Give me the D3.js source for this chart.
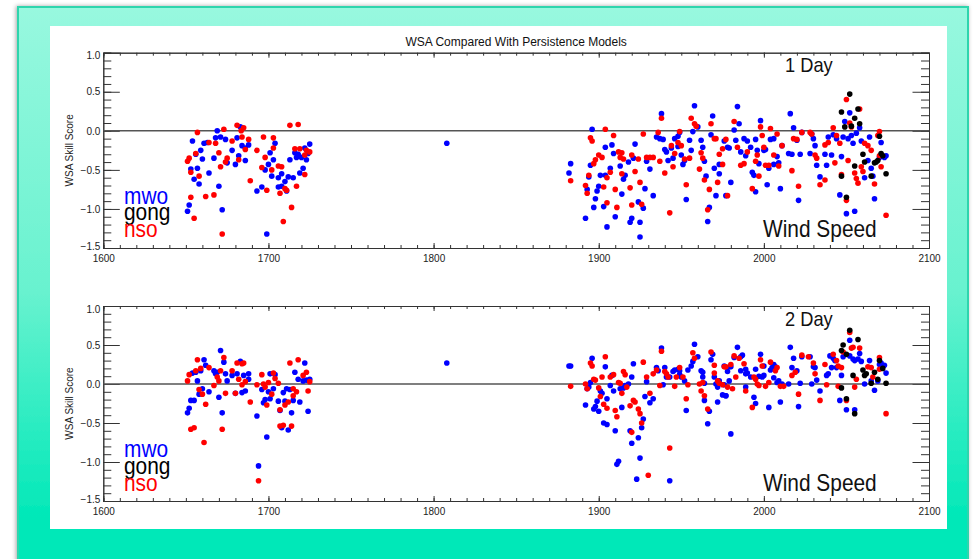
<!DOCTYPE html>
<html>
<head>
<meta charset="utf-8">
<script src="https://cdn.jsdelivr.net/npm/d3@7"></script>
<style>
  html, body { margin: 0; padding: 0; background: #ffffff; }
  svg { display: block; }
</style>
</head>
<body>
<svg id="chart" width="973" height="559"></svg>
<script>
// ---- axis ticks and labels ----
const xMajorTicks = [1600, 1700, 1800, 1900, 2000, 2100];
const yMajorTicks = [-1.5, -1.0, -0.5, 0.0, 0.5, 1.0];
const legendNames = ["mwo", "gong", "nso"];
const panelLabels = ["1 Day", "2 Day"];
const chartTitle = "WSA Compared With Persistence Models";
const yTitle = "WSA Skill Score";
const variableLabel = "Wind Speed";

// ---- 1 day forecast skill: [Carrington rotation, skill score] ----
const day1Mwo = [
  [1683,0.05],[1669,0.0],[1668,-0.09],[1671,-0.08],[1674,-0.11],[1654,-0.13],[1661,-0.16],[1663,-0.15],
  [1659,-0.25],[1656,-0.30],[1660,-0.36],[1653,-0.49],[1657,-0.48],[1655,-0.62],[1658,-0.68],[1652,-0.95],
  [1651,-1.03],[1664,-0.54],[1670,-0.71],[1672,-1.01],[1667,-0.35],[1675,-0.41],[1678,-0.25],[1680,-0.43],
  [1682,-0.32],[1686,-0.38],[1681,-0.09],[1684,-0.19],[1686,-0.22],[1688,-0.18],[1693,-0.77],[1696,-0.72],
  [1699,-1.32],[1701,-0.28],[1704,-0.16],[1703,-0.37],[1700,-0.43],[1698,-0.50],[1702,-0.58],[1706,-0.60],
  [1708,-0.55],[1710,-0.65],[1706,-0.72],[1708,-0.71],[1711,-0.77],[1712,-0.59],[1715,-0.60],[1713,-0.37],
  [1716,-0.28],[1717,-0.34],[1720,-0.34],[1718,-0.30],[1721,-0.48],[1719,-0.54],[1723,-0.37],[1722,-0.22],
  [1724,-0.29],[1725,-0.17],
  [1808,-0.16],
  [1883,-0.42],[1882,-0.54],[1896,0.02],[1895,-0.44],[1894,-0.59],[1893,-0.75],[1892,-1.12],[1897,-0.98],
  [1898,-0.87],[1899,-0.77],[1900,-0.71],[1901,-0.57],[1903,-0.97],[1904,-0.57],[1905,-1.23],[1907,-0.48],
  [1904,-0.21],[1908,-0.18],[1909,-0.29],[1910,-1.10],[1913,-0.45],[1914,-0.81],[1915,-0.62],[1916,-0.57],
  [1918,-0.40],[1919,-1.17],[1920,-1.12],[1921,-0.35],[1922,-0.17],[1924,-0.91],[1925,-1.17],[1925,-1.36],
  [1927,-0.99],[1928,-0.74],[1929,-0.39],[1931,-0.49],[1933,-0.83],[1935,-0.08],[1938,0.22],[1937,-0.10],
  [1939,-0.11],[1940,-0.24],[1941,-0.27],[1942,-0.38],[1944,-0.22],[1945,-0.35],[1946,-0.10],[1948,-0.07],
  [1949,-0.02],[1948,-0.20],[1950,-0.31],[1952,-0.38],[1951,-0.43],[1953,-0.88],[1955,-0.12],[1956,-0.25],
  [1957,-0.01],[1958,0.32],[1960,0.05],[1962,-0.12],[1963,-0.21],[1964,-0.39],[1965,-0.58],[1967,-0.98],
  [1966,-1.16],[1968,-0.05],[1969,0.19],[1970,-0.48],[1971,-0.83],[1973,-0.55],[1973,-0.43],[1976,-0.13],
  [1978,-0.21],
  [1984,0.31],[1985,0.09],[1982,0.01],[1979,-0.22],[1983,-0.12],[1986,-0.27],[1980,-0.66],[1977,-0.83],
  [1988,-0.10],[1990,-0.13],[1992,-0.21],[1989,-0.32],[1993,-0.53],[1994,-0.57],[1995,-0.78],[1995,-0.11],
  [1996,-0.25],[1997,-0.42],[1998,0.13],[2000,-0.25],[2001,-0.24],[2002,-0.69],[2003,-0.48],[2004,-0.11],
  [2006,-0.43],[2006,-0.10],[2008,-0.33],[2009,-0.41],[2011,-0.19],[2010,-0.74],[2015,-0.29],[2016,0.22],
  [2017,-0.30],[2018,0.04],[2020,-0.12],[2021,-0.89],[2022,-0.30],[2023,-0.02],[2028,-0.29],[2029,-0.04],
  [2030,-0.10],[2031,-0.19],[2032,-0.44],[2034,-0.59],[2037,-0.30],[2038,-0.44],[2039,-0.08],[2041,-0.31],
  [2042,-0.05],[2044,-0.10],[2046,-0.82],[2047,-0.33],[2048,-0.08],[2049,0.12],[2050,-1.06],[2051,-0.10],
  [2052,0.23],[2053,-0.06],[2054,-0.16],[2055,-1.03],[2056,-0.03],[2058,0.04],[2059,-0.13],[2061,-0.60],
  [2063,-0.38],[2064,-0.08],[2065,-0.48],[2066,-0.58],[2067,-0.87],[2070,-0.34],[2071,-0.15],[2073,-0.34],
  [2074,-0.32]
];

const day1Nso = [
  [1681,0.07],[1685,0.04],[1683.5,0.0],[1657,-0.02],[1673,0.02],[1713,0.07],[1718,0.08],[1664,-0.15],
  [1668,-0.16],[1678,-0.13],[1684,-0.08],[1688,-0.11],[1697,-0.08],[1703,-0.09],[1693,-0.25],[1686,-0.24],
  [1670,-0.28],[1675,-0.35],[1674,-0.40],[1682,-0.37],[1671,-0.46],[1656,-0.29],[1652,-0.35],[1651,-0.39],
  [1658,-0.58],[1653,-0.53],[1662,-0.84],[1667,-0.82],[1653,-0.85],[1655,-1.12],[1672,-1.32],[1689,-0.64],
  [1698,-0.34],[1703,-0.22],[1696,-0.47],[1699,-0.76],[1702,-0.50],[1706,-0.45],[1708,-0.46],[1710,-0.74],
  [1707,-0.80],[1717,-0.71],[1714,-0.98],[1709,-1.16],[1711,-0.76],[1716,-0.23],[1719,-0.23],[1722,-0.31],
  [1723,-0.25],[1725,-0.27],[1722,-0.56],
  [1883,-0.64],[1895,-0.09],[1896,-0.13],[1894,-0.57],[1892,-0.70],[1893,-0.80],[1897,-0.42],[1898,-0.37],
  [1900,-0.31],[1902,-0.34],[1904,0.02],[1905,-0.60],[1903,-0.72],[1905,-0.92],[1909,-0.06],[1907,-0.53],
  [1910,-0.75],[1912,-0.27],[1913,-0.34],[1914,-0.28],[1915,-0.36],[1914,-0.55],[1911,-0.98],[1919,-0.73],
  [1920,-0.95],[1920,-0.31],[1922,-0.52],[1924,-0.36],[1925,-0.66],[1926,-0.94],[1927,-0.04],[1929,-0.34],
  [1931,-0.34],[1933,-0.34],[1936,-0.02],[1938,0.16],[1937,-0.39],[1940,-0.54],[1943,-1.05],[1944,-0.19],
  [1945,-0.46],[1946,-0.29],[1948,-0.15],[1949,-0.01],[1950,-0.19],[1952,-0.36],[1953,-0.69],[1955,-0.35],
  [1956,0.16],[1958,0.09],[1959,0.06],[1961,-0.49],[1962,-0.28],[1963,-0.35],[1964,-0.63],[1966,-1.01],
  [1967,-0.75],[1968,0.09],[1970,-0.10],[1971,-0.10],[1972,-0.66],[1973,-0.30],[1975,-0.43],[1975,-0.23],
  [1977,-0.11],[1978,-0.83],
  [1982,0.12],[1984,-0.21],[1986,-0.44],[1988,-0.42],[1990,-0.27],[1993,-0.74],[1995,-0.39],[1996,-0.31],
  [1997,-0.58],[1998,0.05],[1999,-0.06],[2000,-0.21],[2001,-0.44],[2003,-0.44],[2004,0.03],[2006,-0.31],
  [2008,-0.04],[2009,-0.45],[2011,-0.19],[2017,-0.51],[2018,-0.10],[2020,-0.11],[2021,-0.71],[2023,-0.02],
  [2028,-0.02],[2029,-0.04],[2031,-0.31],[2032,-0.35],[2034,-0.69],[2037,-0.63],[2037,-0.18],[2039,-0.15],
  [2042,0.04],[2043,-0.41],[2044,-0.06],[2046,-0.16],[2047,-0.56],[2050,0.40],[2050,-0.89],[2051,-0.38],
  [2052,0.10],[2053,0.05],[2055,-0.54],[2056,-0.61],[2057,-0.67],[2058,0.28],[2059,-0.46],[2060,-0.52],
  [2061,-0.16],[2063,-0.19],[2065,-0.25],[2067,-0.68],[2069,-0.06],[2070,-0.01],[2070,-0.32],[2071,-0.46],
  [2074,-1.08]
];

const day1Gong = [
  [2052,0.47],[2047,0.24],[2049,0.05],[2053,0.06],[2055,0.16],[2058,0.09],[2057,0.28],[2047,-0.58],
  [2050,-0.85],[2055,-0.45],[2060,-0.30],[2061,-0.40],[2065,-0.58],[2067,-0.41],[2068,-0.40],[2069,-0.38],
  [2071,-0.29],[2072,-0.32],[2074,-0.55],[2070,-0.07]
];

// ---- 2 day forecast skill ----
const day2Mwo = [
  [1671,0.43],[1673,0.28],[1661,0.31],[1662,0.24],[1659,0.17],[1656,0.15],[1654,0.14],[1657,0.04],
  [1667,0.17],[1668,0.13],[1669,0.15],[1675,0.04],[1674,0.13],[1678,0.11],[1681,0.13],[1683,0.29],
  [1685,0.11],[1688,0.13],[1688,0.06],[1686,-0.09],[1684,-0.11],[1680,-0.12],[1670,-0.17],[1664,-0.10],
  [1660,-0.06],[1658,-0.13],[1655,-0.21],[1653,-0.21],[1652,-0.31],[1651,-0.37],[1672,-0.37],[1693,-0.41],
  [1696,-0.07],[1701,0.13],[1704,0.12],[1700,-0.10],[1703,-0.06],[1698,-0.20],[1697,-0.24],[1701,-0.19],
  [1699,-0.68],[1694,-1.05],[1706,-0.22],[1709,-0.11],[1711,-0.06],[1713,-0.07],[1710,-0.22],[1707,-0.34],
  [1708,-0.56],[1712,-0.59],[1714,-0.37],[1715,-0.21],[1716,0.15],[1718,0.06],[1719,-0.23],[1722,0.27],
  [1721,0.04],[1723,0.05],[1725,0.06],[1724,-0.35],
  [1808,0.27],
  [1883,0.23],[1882,0.23],[1896,0.33],[1894,-0.04],[1893,-0.06],[1895,0.02],[1892,-0.27],[1897,-0.32],
  [1898,-0.29],[1899,-0.22],[1900,-0.35],[1901,-0.09],[1902,-0.12],[1904,0.22],[1905,-0.19],[1903,-0.50],
  [1905,-0.52],[1908,0.11],[1907,-0.02],[1909,-0.09],[1910,-0.60],[1912,-0.99],[1911,-1.03],[1913,-0.06],
  [1915,-0.05],[1916,-0.02],[1918,0.0],[1914,-0.30],[1919,-0.60],[1920,-0.76],[1921,0.26],[1920,0.09],
  [1924,-0.69],[1925,-0.95],[1923,-1.22],[1926,-0.56],[1927,-0.45],[1928,-0.16],[1929,0.03],[1931,-0.24],
  [1933,-0.19],[1935,0.21],[1938,0.46],[1936,0.17],[1940,0.21],[1939,-0.01],[1941,0.09],[1943,0.09],
  [1945,0.16],[1946,0.18],[1948,0.19],[1949,0.17],[1950,0.09],[1952,0.04],[1949,0.12],[1954,0.18],
  [1956,0.23],[1958,0.51],[1957,0.29],[1960,0.35],[1962,0.17],[1963,0.15],[1963,0.09],[1964,0.01],
  [1964,-0.21],[1967,-0.35],[1966,-0.51],[1953,-0.34],[1968,0.31],[1969,0.38],[1970,0.09],[1971,0.0],
  [1972,-0.04],[1973,0.04],[1975,-0.14],[1972,-0.23],[1976,0.23],[1978,0.16],[1979,0.04],[1977,-0.15],
  [1976,-0.01],[1943,-1.24],
  [1984,0.47],[1982,0.34],[1986,0.35],[1987,0.37],[1978,0.21],[1980,0.22],[1986,0.17],[1989,0.19],
  [1989,0.13],[1990,0.14],[1992,0.09],[1995,0.19],[1997,0.10],[1999,0.09],[2000,0.11],[1998,0.38],
  [2000,0.23],[2004,0.18],[2005,0.21],[2006,0.25],[2007,0.22],[2006,0.08],[2008,0.02],[2009,0.04],
  [2011,0.0],[2015,0.0],[2016,0.47],[2017,0.21],[2018,0.33],[2020,0.17],[2022,0.01],[2023,0.35],
  [2021,-0.29],[2028,0.35],[2029,0.0],[2030,0.22],[2031,0.21],[2032,0.05],[2034,-0.09],[1980,-0.64],
  [1977,-0.15],[1989,-0.04],[1994,-0.17],[1995,-0.25],[2003,-0.30],[2010,-0.23],[2038,0.11],[2039,0.13],
  [2040,0.36],[2042,0.33],[2043,0.30],[2044,0.21],[2041,0.21],[2047,0.11],[2046,-0.21],[2048,0.35],
  [2050,-0.33],[2052,0.56],[2052,0.36],[2054,0.32],[2055,0.30],[2057,0.32],[2055,-0.33],[2058,0.39],
  [2059,0.29],[2061,0.0],[2064,0.30],[2065,0.04],[2067,-0.08],[2069,0.04],[2070,0.25],[2071,0.27],
  [2073,0.24],[2074,0.14]
];

const day2Nso = [
  [1673,0.34],[1657,0.31],[1652,0.12],[1651,0.04],[1656,0.17],[1659,0.20],[1664,0.21],[1667,-0.02],
  [1669,0.09],[1670,0.04],[1671,0.17],[1678,0.17],[1681,0.27],[1684,0.26],[1685,0.27],[1682,0.06],
  [1684,-0.01],[1686,0.03],[1680,-0.12],[1674,-0.12],[1658,-0.07],[1660,-0.13],[1662,-0.26],[1653,-0.58],
  [1655,-0.56],[1661,-0.75],[1672,-0.58],[1689,-0.23],[1693,-0.01],[1696,0.12],[1697,0.0],[1698,-0.04],
  [1700,0.02],[1703,0.14],[1704,0.07],[1706,0.01],[1699,-0.27],[1702,-0.13],[1707,-0.33],[1707,-0.54],
  [1709,-0.53],[1710,-0.27],[1712,-0.23],[1715,-0.06],[1715,-0.15],[1717,-0.10],[1714,-0.54],[1713,0.27],
  [1718,0.31],[1721,0.11],[1723,0.15],[1725,0.03],[1724,-0.09],[1694,-1.24],
  [1883,-0.03],[1895,0.27],[1896,0.23],[1904,0.35],[1892,0.0],[1893,-0.06],[1897,0.06],[1898,0.05],
  [1900,-0.05],[1902,0.09],[1901,-0.16],[1903,-0.26],[1905,-0.31],[1907,0.09],[1909,0.12],[1910,-0.34],
  [1911,-0.42],[1912,0.02],[1913,0.01],[1914,-0.12],[1915,0.16],[1916,0.12],[1917,-0.04],[1919,-0.28],
  [1920,-0.62],[1921,-0.21],[1922,-0.23],[1924,-0.32],[1925,-0.38],[1926,-0.50],[1927,0.28],[1929,0.09],
  [1931,-0.12],[1933,0.13],[1935,0.18],[1938,0.42],[1937,-0.02],[1940,0.16],[1941,0.13],[1942,0.09],
  [1946,-0.03],[1947,0.09],[1949,0.21],[1951,0.09],[1954,-0.01],[1957,0.40],[1958,0.33],[1953,-0.19],
  [1943,-0.82],[1930,-1.17],[1961,0.0],[1962,-0.09],[1963,0.02],[1964,-0.15],[1966,-0.32],[1968,0.41],
  [1970,0.24],[1970,0.14],[1972,0.04],[1973,0.01],[1975,-0.01],[1976,0.22],[1977,0.22],[1978,-0.04],
  [1982,0.36],[1980,0.25],[1983,0.09],[1981,-0.06],[1985,0.33],[1988,0.26],[1989,-0.09],[1993,-0.30],
  [1994,0.09],[1995,0.06],[1996,0.0],[1997,-0.02],[1998,0.31],[1999,0.23],[2001,-0.03],[2003,0.02],
  [2004,0.28],[2007,0.17],[2008,0.21],[2010,-0.03],[2012,-0.03],[2017,0.11],[2019,0.15],[2021,-0.13],
  [2023,0.37],[2027,0.35],[2030,0.27],[2031,0.13],[2034,-0.21],[2037,0.25],[2038,-0.01],[2042,0.38],
  [2044,0.30],[2045,0.23],[2047,0.21],[2045,-0.03],[2048,0.41],[2050,-0.21],[2052,0.66],[2053,0.46],
  [2054,0.47],[2058,0.46],[2056,0.06],[2055,-0.04],[2063,0.22],[2065,0.21],[2066,0.09],[2070,0.34],
  [2070,0.19],[2074,-0.38]
];

const day2Gong = [
  [2052,0.69],[2048,0.50],[2057,0.57],[2047,0.43],[2050,0.38],[2054,0.11],[2047,-0.05],[2050,-0.19],
  [2055,-0.38],[2060,0.18],[2061,0.11],[2062,0.13],[2065,0.01],[2067,0.15],[2069,0.06],[2070,0.30],
  [2072,0.20],[2074,0.01]
];

// ---- drawing ----
const svg = d3.select("#chart");
const FONT = "'Liberation Sans', Arial, Helvetica, sans-serif";
const seriesColor = { mwo: "#0000ff", gong: "#000000", nso: "#ff0000" };

// background frame
const defs = svg.append("defs");
const grad = defs.append("linearGradient")
  .attr("id", "frameFill").attr("x1", 0).attr("y1", 0).attr("x2", 0).attr("y2", 1);
grad.append("stop").attr("offset", "0%").attr("stop-color", "#98f8df");
grad.append("stop").attr("offset", "50%").attr("stop-color", "#68f2cf");
grad.append("stop").attr("offset", "90%").attr("stop-color", "#00e8b8");
grad.append("stop").attr("offset", "100%").attr("stop-color", "#00e8b8");
const shadow = defs.append("filter").attr("id", "frameShadow")
  .attr("x", "-5%").attr("y", "-5%").attr("width", "110%").attr("height", "110%");
shadow.append("feDropShadow").attr("dx", -1).attr("dy", 0).attr("stdDeviation", 2)
  .attr("flood-color", "#000").attr("flood-opacity", 0.35);

svg.append("rect")
  .attr("x", 18).attr("y", 7).attr("width", 950).attr("height", 570)
  .attr("fill", "url(#frameFill)")
  .attr("stroke", "#2fd5ad").attr("stroke-width", 2)
  .attr("filter", "url(#frameShadow)");
svg.append("rect")
  .attr("x", 50).attr("y", 26).attr("width", 897).attr("height", 503)
  .attr("fill", "#ffffff");

// shared horizontal scale
const x = d3.scaleLinear().domain([1600, 2100]).range([103.3, 929]);
const xMinorTicks = d3.range(1600, 2101, 10);
const yMinorTicks = d3.range(-15, 11).map(d => d / 10);

svg.append("text")
  .attr("x", (x.range()[0] + x.range()[1]) / 2).attr("y", 46)
  .attr("text-anchor", "middle")
  .attr("font-family", FONT).attr("font-size", 12).attr("fill", "#111")
  .text(chartTitle);

const panels = [
  { top: 52.7, bottom: 248, label: panelLabels[0],
    series: { mwo: day1Mwo, nso: day1Nso, gong: day1Gong },
    labelY: 72, windY: 237, legendY: [204, 220, 237] },
  { top: 306, bottom: 501, label: panelLabels[1],
    series: { mwo: day2Mwo, nso: day2Nso, gong: day2Gong },
    labelY: 326, windY: 491, legendY: [457, 474, 491] }
];

function styleAxis(g) {
  g.selectAll("path.domain").attr("stroke", "#333").attr("stroke-width", 1);
  g.selectAll(".tick line").attr("stroke", "#333").attr("stroke-width", 1);
  g.selectAll("text").attr("font-family", FONT).attr("font-size", 10).attr("fill", "#222");
}

function condensedText(x0, y0, size, color, str) {
  svg.append("text")
    .attr("transform", `translate(${x0},${y0}) scale(0.87,1)`)
    .attr("font-family", FONT).attr("font-size", size).attr("fill", color)
    .text(str);
}

panels.forEach(p => {
  const y = d3.scaleLinear().domain([-1.5, 1.0]).range([p.bottom, p.top]);
  const [x0, x1] = x.range();

  // minor ticks
  svg.append("g").attr("transform", `translate(0,${p.bottom})`)
    .call(d3.axisBottom(x).tickValues(xMinorTicks).tickSize(-3).tickFormat("")).call(styleAxis);
  svg.append("g").attr("transform", `translate(0,${p.top})`)
    .call(d3.axisTop(x).tickValues(xMinorTicks).tickSize(-3).tickFormat("")).call(styleAxis);
  svg.append("g").attr("transform", `translate(${x0},0)`)
    .call(d3.axisLeft(y).tickValues(yMinorTicks).tickSize(-8).tickFormat("")).call(styleAxis);
  svg.append("g").attr("transform", `translate(${x1},0)`)
    .call(d3.axisRight(y).tickValues(yMinorTicks).tickSize(-8).tickFormat("")).call(styleAxis);

  // major ticks and labels
  svg.append("g").attr("transform", `translate(0,${p.bottom})`)
    .call(d3.axisBottom(x).tickValues(xMajorTicks).tickSizeInner(-5).tickSizeOuter(0)
      .tickPadding(7).tickFormat(d3.format("d")))
    .call(styleAxis);
  svg.append("g").attr("transform", `translate(0,${p.top})`)
    .call(d3.axisTop(x).tickValues(xMajorTicks).tickSizeInner(-5).tickSizeOuter(0).tickFormat(""))
    .call(styleAxis);
  const yl = svg.append("g").attr("transform", `translate(${x0},0)`)
    .call(d3.axisLeft(y).tickValues(yMajorTicks).tickSizeInner(-16.5).tickSizeOuter(0)
      .tickPadding(3).tickFormat(d3.format(".1f")))
    .call(styleAxis);
  yl.selectAll(".tick text").attr("dy", d => d === 1.0 ? "0.62em" : d === -1.5 ? "0.12em" : "0.32em");
  svg.append("g").attr("transform", `translate(${x1},0)`)
    .call(d3.axisRight(y).tickValues(yMajorTicks).tickSizeInner(-16.5).tickSizeOuter(0).tickFormat(""))
    .call(styleAxis);

  // zero line
  svg.append("line")
    .attr("x1", x0).attr("x2", x1).attr("y1", y(0)).attr("y2", y(0))
    .attr("stroke", "#555").attr("stroke-width", 1.4);

  // y title
  svg.append("text")
    .attr("transform", `translate(73,${(p.top + p.bottom) / 2}) rotate(-90)`)
    .attr("text-anchor", "middle")
    .attr("font-family", FONT).attr("font-size", 10).attr("fill", "#222")
    .text(yTitle);

  // data points: mwo, then nso, then gong on top
  ["mwo", "nso", "gong"].forEach(name => {
    svg.append("g").selectAll("circle")
      .data(p.series[name])
      .join("circle")
      .attr("cx", d => x(d[0]))
      .attr("cy", d => y(d[1]))
      .attr("r", 2.8)
      .attr("fill", seriesColor[name]);
  });

  // labels
  condensedText(785, p.labelY, 21, "#111", p.label);
  condensedText(763, p.windY, 24, "#111", variableLabel);
  legendNames.forEach((name, i) => {
    condensedText(124, p.legendY[i], 24, seriesColor[name], name);
  });
});
</script>
</body>
</html>
